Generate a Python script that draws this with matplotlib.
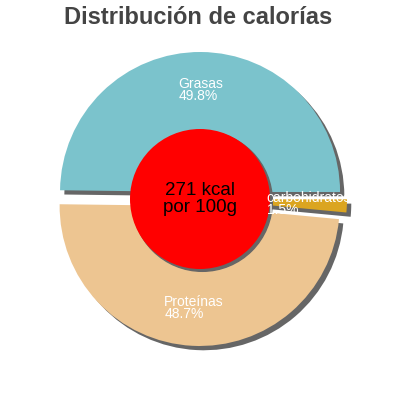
import numpy as np
import matplotlib.pyplot as plt
import matplotlib.patches as mpatches

plt.rcParams['font.family'] = ['Liberation Sans', 'DejaVu Sans']

# data
labels = ['Grasas', 'Proteínas', 'carbohidratos']
percent = [49.8, 48.7, 1.5]
colors = ['#7bc3cc', '#edc591', '#dba520']
title = 'Distribución de calorías'
center_text = '271 kcal\npor 100g'


def main():
    fig = plt.figure(figsize=(4, 4), dpi=100)
    ax = fig.add_axes([0, 0, 1, 1])

    shadow = {'ox': 0.022, 'oy': -0.022, 'facecolor': '#666666',
              'edgecolor': '#666666', 'alpha': 1}
    wedges, _ = ax.pie(percent, colors=colors, explode=[0.05] * len(percent),
                       startangle=0, counterclock=True, radius=1,
                       shadow=shadow, wedgeprops={'linewidth': 0})

    # labels inside each wedge
    for w, lab, p in zip(wedges, labels, percent):
        mid = np.deg2rad((w.theta1 + w.theta2) / 2)
        cx, cy = w.center
        r = 0.73 * w.r
        ax.text(cx + r * np.cos(mid), cy + r * np.sin(mid),
                '%s\n%.1f%%' % (lab, p), color='white', fontsize=10,
                ha='center', va='center', multialignment='left',
                linespacing=0.85, zorder=5)

    # red center disc with its shadow
    disc = mpatches.Circle((0, 0), 0.5, facecolor='#ff0000', edgecolor='none', zorder=3)
    ax.add_patch(disc)
    ax.add_patch(mpatches.Shadow(disc, 0.012, -0.012, facecolor='#666666',
                                 edgecolor='#666666', alpha=1))
    ax.text(0, 0, center_text, ha='center', va='center', fontsize=13.5,
            color='black', linespacing=0.95, zorder=6)

    ax.set_xlim(-200 / 140, 200 / 140)
    ax.set_ylim(-201 / 140, 199 / 140)
    ax.set_aspect('auto')
    ax.axis('off')

    fig.text(0.495, 1 - 18 / 400, title, ha='center', va='center',
             fontsize=17, fontweight='bold', color='#444444')

    plt.savefig('out.png', dpi=100)


if __name__ == "__main__":
    main()
